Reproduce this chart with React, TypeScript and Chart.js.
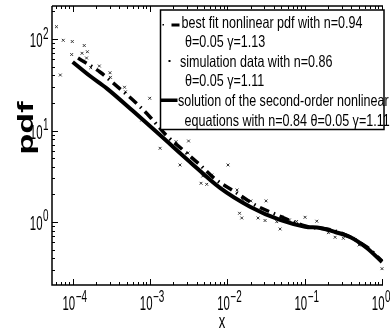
import React, { useEffect, useRef } from "react";
import { Chart, registerables } from "chart.js";
Chart.register(...registerables);

// ---- data ----
const SOLID_X = [1e-4, 1.675e-4, 2.754e-4, 6.03e-4, 1.346e-3, 3.29e-3, 8.04e-3, 0.01963, 0.04797, 0.1012, 0.1581, 0.2472, 0.3864, 0.6353, 1.0];
const SOLID_Y = [56.1, 39.4, 28.9, 16.3, 8.93, 4.53, 2.355, 1.469, 1.052, 0.889, 0.859, 0.778, 0.685, 0.52, 0.366];

const FIT_X = [1.172e-4, 2.253e-4, 3.85e-4, 6.4e-4, 1.0e-3, 1.61e-3, 2.67e-3, 4.44e-3, 6.93e-3, 0.01259, 0.02286, 0.0414, 0.1012, 0.247, 0.635, 1.0];
const FIT_Y = [61.9, 43.6, 29.8, 20.5, 14.06, 8.93, 6.12, 4.2, 2.95, 2.13, 1.535, 1.222, 0.904, 0.798, 0.533, 0.375];

const SIM_X = [6.17e-5, 7.55e-5, 9.88e-5, 1.41e-4, 6.92e-5, 9.7e-5, 1.32e-4, 1.55e-4, 1.51e-4, 1.71e-4, 2.21e-4, 3.04e-4, 3.08e-4, 4.68e-4, 4.82e-4, 9.91e-4, 1.35e-3, 2.17e-3, 3.15e-3, 2.44e-3, 0.0102, 6.28e-3, 4.81e-3, 4.57e-3, 5.41e-3, 0.01335, 0.01563, 0.02014, 0.03167, 0.01438, 0.01536, 0.02495, 0.03074, 0.04355, 0.0506, 0.0634, 0.0786, 0.0481, 0.1012, 0.1434, 0.2026, 0.2473, 0.3166, 0.4266, 0.5056, 1.0, 7.81e-4, 3.1e-3];
const SIM_Y = [136.3, 96.8, 93.9, 84.9, 40.4, 67.7, 69.8, 72.6, 62.0, 48.6, 50.7, 42.8, 38.1, 29.7, 26.5, 22.5, 6.39, 7.54, 7.68, 4.2, 4.2, 3.26, 3.18, 2.65, 2.58, 2.24, 1.77, 1.7, 1.7, 1.245, 1.106, 1.106, 1.038, 1.008, 1.143, 1.052, 1.013, 0.839, 1.126, 1.02, 0.764, 0.681, 0.664, 0.664, 0.561, 0.309, 13.0, 5.68];

const X_TICK_EXP = [-4, -3, -2, -1, 0];
const Y_TICK_EXP = [0, 1, 2];
const X_MIN = 5.4e-5, X_MAX = 1.03;
const Y_MIN = 0.2048, Y_MAX = 229.5;
const X_TITLE = "x";
const Y_TITLE = "pdf";
const LEGEND_LINES = [
  "best fit nonlinear pdf with n=0.94",
  "θ=0.05 γ=1.13",
  "simulation data with n=0.86",
  "θ=0.05 γ=1.11",
  "solution of the second-order nonlinear",
  "equations with n=0.84 θ=0.05 γ=1.11",
];

const FONT = '"Liberation Sans", Arial, sans-serif';

function txt(ctx: CanvasRenderingContext2D, text: string, x: number, y: number, font: string, sx: number, align = "left") {
  ctx.save();
  ctx.font = font;
  const w = ctx.measureText(text).width * sx;
  let x0 = x;
  if (align === "right") x0 = x - w;
  else if (align === "center") x0 = x - w / 2;
  ctx.translate(x0, y);
  ctx.scale(sx, 1);
  ctx.textAlign = "left";
  ctx.textBaseline = "alphabetic";
  ctx.fillStyle = "#000";
  ctx.fillText(text, 0, 0);
  ctx.restore();
  return w;
}

const supMap: Record<string, string> = { "-": "\u2212" };

const decorPlugin = {
  id: "decor",
  afterDraw(chart: any) {
    const ctx: CanvasRenderingContext2D = chart.ctx;
    const ca = chart.chartArea;
    const xs = chart.scales.x;
    const ys = chart.scales.y;
    ctx.save();
    ctx.strokeStyle = "#000";
    ctx.fillStyle = "#000";
    ctx.lineWidth = 1.5;
    // axes lines
    ctx.beginPath();
    ctx.moveTo(ca.left, ca.top);
    ctx.lineTo(ca.left, ca.bottom);
    ctx.lineTo(ca.right, ca.bottom);
    ctx.moveTo(ca.left, ca.top);
    ctx.lineTo(ca.right, ca.top);
    ctx.stroke();
    // ticks
    ctx.lineWidth = 1;
    ctx.beginPath();
    for (let e = -5; e <= 0; e++) {
      for (let k = 1; k <= 9; k++) {
        const v = k * Math.pow(10, e);
        if (v >= xs.min && v <= xs.max) {
          const px = Math.round(xs.getPixelForValue(v)) + 0.5;
          const len = k === 1 ? 6 : 3;
          ctx.moveTo(px, ca.bottom);
          ctx.lineTo(px, ca.bottom - len);
          ctx.moveTo(px, ca.top);
          ctx.lineTo(px, ca.top + len);
        }
      }
    }
    for (let e = -1; e <= 2; e++) {
      for (let k = 1; k <= 9; k++) {
        const v = k * Math.pow(10, e);
        if (v >= ys.min && v <= ys.max) {
          const py = Math.round(ys.getPixelForValue(v)) + 0.5;
          const len = k === 1 ? 6 : 3;
          ctx.moveTo(ca.left, py);
          ctx.lineTo(ca.left + len, py);
        }
      }
    }
    ctx.stroke();

    const baseFont = `20px ${FONT}`;
    const supFont = `16px ${FONT}`;
    // x tick labels
    X_TICK_EXP.forEach((e) => {
      const px = xs.getPixelForValue(Math.pow(10, e));
      txt(ctx, "10", px + 2.5, ca.bottom + 25, baseFont, 0.57, "right");
      const s = String(e).split("").map((c) => supMap[c] || c).join("");
      txt(ctx, s, px + 3, ca.bottom + 16.5, supFont, 0.62, "left");
    });
    // y tick labels
    Y_TICK_EXP.forEach((e) => {
      const py = ys.getPixelForValue(Math.pow(10, e));
      txt(ctx, "10", ca.left - 9.5, py + 8, baseFont, 0.57, "right");
      const s = String(e).split("").map((c) => supMap[c] || c).join("");
      txt(ctx, s, ca.left - 9, py - 0.5, supFont, 0.62, "left");
    });
    // axis titles
    txt(ctx, X_TITLE, (ca.left + ca.right) / 2 + 4.5, 328, `20px ${FONT}`, 0.65, "center");
    ctx.save();
    ctx.translate(33, (ca.top + ca.bottom) / 2 - 17.5);
    ctx.rotate(-Math.PI / 2);
    txt(ctx, Y_TITLE, 0, 0, `bold 22px ${FONT}`, 1.55, "center");
    ctx.restore();

    // legend
    const bx = 160.5, by = 10, bw = 223.5, bh = 119.5;
    ctx.fillStyle = "#fff";
    ctx.fillRect(bx, by, bw, bh);
    ctx.lineWidth = 1.5;
    ctx.strokeStyle = "#000";
    ctx.strokeRect(bx, by, bw, bh);
    const lf = `16.5px ${FONT}`;
    ctx.font = lf;
    const sx = 181 / ctx.measureText(LEGEND_LINES[0]).width;
    const pos = [
      [181.5, 27.5],
      [185, 47],
      [180, 66.5],
      [185, 86],
      [178, 106],
      [184.5, 126],
    ];
    LEGEND_LINES.forEach((t, i) => txt(ctx, t, pos[i][0], pos[i][1], lf, sx, "left"));
    ctx.fillStyle = "#000";
    // marker 1: dash-dot sample
    ctx.fillRect(162.5, 24, 1.5, 1.5);
    ctx.fillRect(171.5, 23.5, 8, 3);
    // marker 2: simulation dot
    ctx.fillRect(168.5, 60, 2, 2);
    // marker 3: solid line
    ctx.fillRect(bx, 98.5, 17, 3.5);
    ctx.restore();
  },
};

export default function App() {
  const ref = useRef<HTMLCanvasElement | null>(null);
  useEffect(() => {
    if (!ref.current) return;
    const sim = SIM_X.map((x, i) => ({ x, y: SIM_Y[i] }));
    const solid = SOLID_X.map((x, i) => ({ x, y: SOLID_Y[i] }));
    const fit = FIT_X.map((x, i) => ({ x, y: FIT_Y[i] }));
    const chart = new Chart(ref.current, {
      type: "scatter",
      data: {
        datasets: [
          {
            label: "solution",
            data: solid,
            showLine: true,
            borderColor: "#000",
            borderWidth: 4,
            pointRadius: 0,
            cubicInterpolationMode: "monotone",
            clip: false,
          } as any,
          {
            label: "best fit",
            data: fit,
            showLine: true,
            borderColor: "#000",
            borderWidth: 3.5,
            borderDash: [10, 5, 1.5, 5],
            borderCapStyle: "butt",
            pointRadius: 0,
            cubicInterpolationMode: "monotone",
            clip: false,
          } as any,
          {
            label: "simulation",
            data: sim,
            showLine: false,
            pointStyle: "crossRot",
            pointRadius: 2,
            borderWidth: 1,
            borderColor: "#333",
            backgroundColor: "#333",
            clip: false,
          } as any,
        ],
      },
      options: {
        responsive: false,
        animation: false,
        devicePixelRatio: 1,
        layout: { padding: { left: 52, top: 6, right: 7, bottom: 47 } },
        plugins: { legend: { display: false }, tooltip: { enabled: false } },
        scales: {
          x: { type: "logarithmic", min: X_MIN, max: X_MAX, display: false },
          y: { type: "logarithmic", min: Y_MIN, max: Y_MAX, display: false },
        },
      },
      plugins: [decorPlugin],
    });
    return () => chart.destroy();
  }, []);
  return (
    <div style={{ position: "absolute", left: 0, top: 0, width: 390, height: 332, background: "#fff" }}>
      <canvas ref={ref} width={390} height={332} style={{ width: 390, height: 332, display: "block" }} />
    </div>
  );
}
